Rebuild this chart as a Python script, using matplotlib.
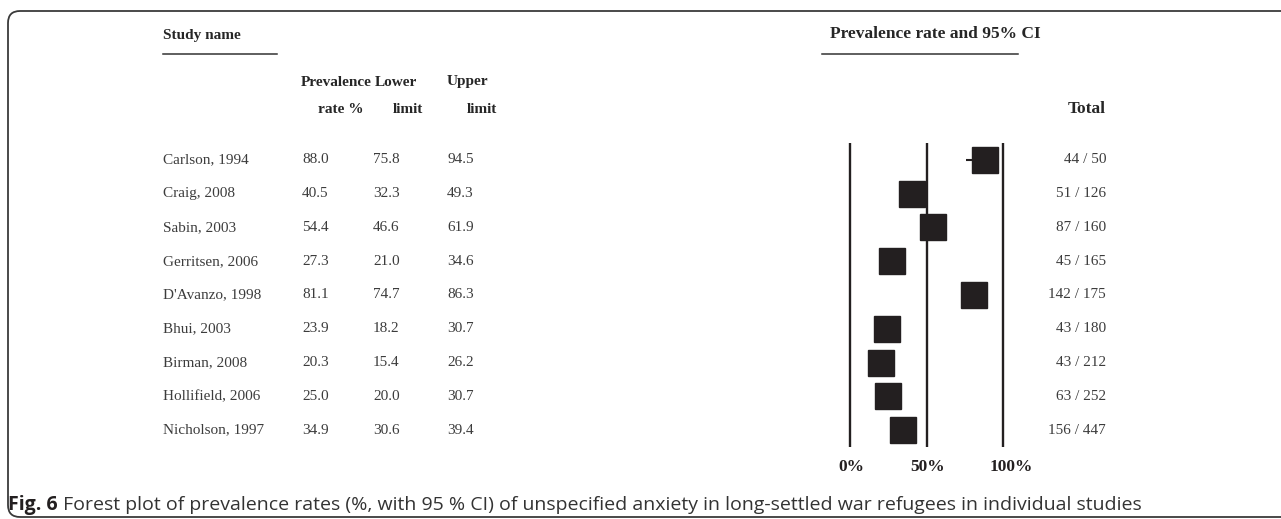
import matplotlib.pyplot as plt
import matplotlib.transforms as mtransforms
from matplotlib.patches import FancyBboxPatch

# ----------------------------------------------------------------------
# Data
# ----------------------------------------------------------------------
studies = ["Carlson, 1994", "Craig, 2008", "Sabin, 2003", "Gerritsen, 2006",
           "D'Avanzo, 1998", "Bhui, 2003", "Birman, 2008", "Hollifield, 2006",
           "Nicholson, 1997"]
rate = [88.0, 40.5, 54.4, 27.3, 81.1, 23.9, 20.3, 25.0, 34.9]
lower = [75.8, 32.3, 46.6, 21.0, 74.7, 18.2, 15.4, 20.0, 30.6]
upper = [94.5, 49.3, 61.9, 34.6, 86.3, 30.7, 26.2, 30.7, 39.4]
events = [44, 51, 87, 45, 142, 43, 43, 63, 156]
totals = [50, 126, 160, 165, 175, 180, 212, 252, 447]
ref_ticks = [0, 50, 100]
tick_labels = ["0%", "50%", "100%"]

caption_bold = "Fig. 6"
caption_text = ("Forest plot of prevalence rates (%, with 95 % CI) of unspecified "
                "anxiety in long-settled war refugees in individual studies")

# ----------------------------------------------------------------------
# Figure
# ----------------------------------------------------------------------
W, H = 1281, 519
fig = plt.figure(figsize=(W / 100, H / 100), dpi=100)
fig.patch.set_facecolor("white")

SERIF = "Liberation Serif"
TXT = "#3c3c3c"
DARK = "#231f20"
FS = 11


def fx(px):
    return px / W


def fy(py):
    return 1 - py / H


# forest axes: x 850..1003 px, y 143..447 px
ax = fig.add_axes([fx(850), fy(447), fx(1003) - fx(850), (447 - 143) / H])
ax.set_xlim(0, 100)
ax.set_ylim(len(studies) - 0.5, -0.5)
ax.axis("off")

rows = list(range(len(studies)))
ax.vlines(ref_ticks, -0.5, len(studies) - 0.5, color=DARK, lw=1.7,
          clip_on=False)
ax.hlines(rows, lower, upper, color=DARK, lw=1.5, clip_on=False)
ax.plot(rate, rows, ls="none", marker="s", ms=18.8, color=DARK,
        mec=DARK, clip_on=False, zorder=3)

tick_dx = [1, 1, 8]
for t, lab, dx in zip(ref_ticks, tick_labels, tick_dx):
    off = mtransforms.ScaledTranslation(dx / 100, 0, fig.dpi_scale_trans)
    ax.text(t, len(studies) + 0.1, lab, ha="center", va="center",
            fontsize=12.5, fontweight="bold", family=SERIF, color=DARK,
            transform=ax.transData + off, clip_on=False)

# table columns share the row scale of the forest axes
row_tr = mtransforms.blended_transform_factory(fig.transFigure, ax.transData)
for i, name in enumerate(studies):
    kw = dict(va="center", fontsize=FS, family=SERIF, color=TXT,
              transform=row_tr)
    ax.text(fx(163), i, name, ha="left", **kw)
    ax.text(fx(302), i, f"{rate[i]:.1f}", ha="left", **kw)
    ax.text(fx(373), i, f"{lower[i]:.1f}", ha="left", **kw)
    ax.text(fx(447), i, f"{upper[i]:.1f}", ha="left", **kw)
    ax.text(fx(1106), i, f"{events[i]} / {totals[i]}", ha="right", **kw)

# headers
hdr = dict(fontsize=11, fontweight="bold", family=SERIF, color="#262626",
           va="center")
fig.text(fx(163), fy(35), "Study name", ha="left", **hdr)
fig.text(fx(830), fy(34), "Prevalence rate and 95% CI", ha="left",
         **{**hdr, "fontsize": 12.5})
fig.text(fx(301), fy(82), "Prevalence", ha="left", **hdr)
fig.text(fx(363), fy(110), "rate %", ha="right", **hdr)
fig.text(fx(375), fy(82), "Lower", ha="left", **hdr)
fig.text(fx(423), fy(110), "limit", ha="right", **hdr)
fig.text(fx(447), fy(82), "Upper", ha="left", **hdr)
fig.text(fx(497), fy(110), "limit", ha="right", **hdr)
fig.text(fx(1106), fy(109), "Total", ha="right", **{**hdr, "fontsize": 12.5})

# header underlines
fig.add_artist(plt.Line2D([fx(163), fx(277)], [fy(54), fy(54)],
                          color="#333333", lw=1.1))
fig.add_artist(plt.Line2D([fx(822), fx(1018)], [fy(54), fy(54)],
                          color="#333333", lw=1.1))

# rounded frame around the figure panel (pixel units)
px_tr = mtransforms.Affine2D().scale(1 / 100) + fig.dpi_scale_trans
frame = FancyBboxPatch((8, H - 517), 1320, 506,
                       boxstyle="round,pad=0,rounding_size=12",
                       fill=False, ec="#3a3a3a", lw=1.3, transform=px_tr)
fig.add_artist(frame)

# caption
t1 = fig.text(fx(8), fy(505), caption_bold, ha="left", va="center",
              fontsize=14, fontweight="bold", family="Open Sans",
              color="#231f20")
ax.annotate(" " + caption_text, xy=(1, 0.5), xycoords=t1,
            ha="left", va="center", fontsize=14, family="Open Sans",
            color="#333333", annotation_clip=False)

fig.savefig("out.png", dpi=100, facecolor="white")
